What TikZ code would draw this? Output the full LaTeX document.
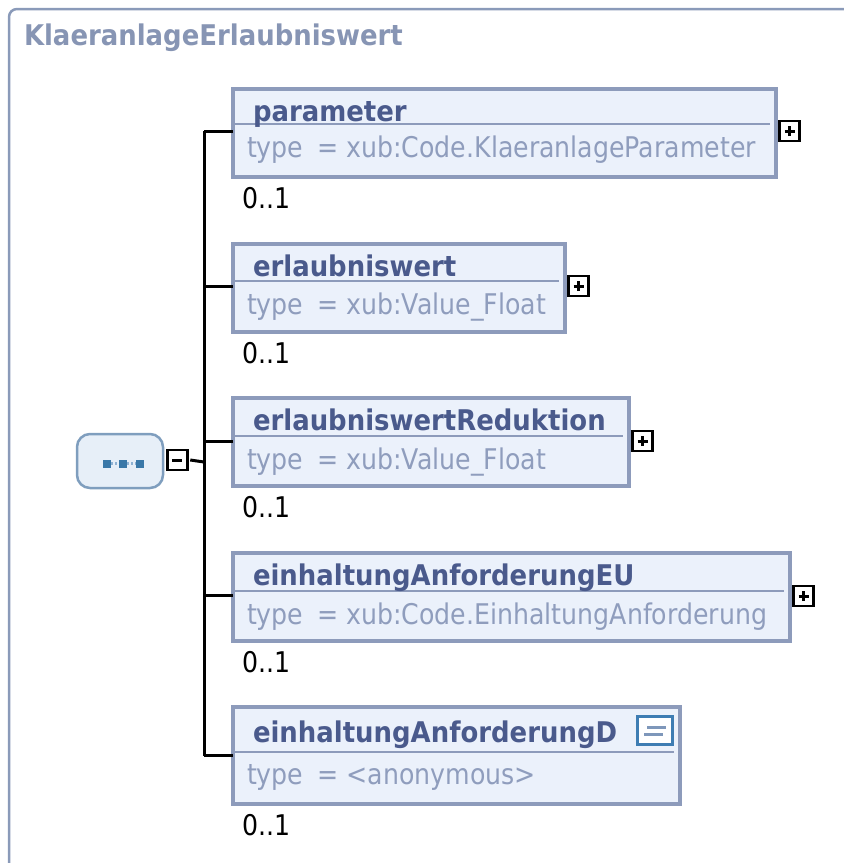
\documentclass[tikz,border=0pt]{standalone}
\usepackage{fontspec}
\setmainfont[FakeStretch=0.885]{DejaVu Sans}
\newfontfamily\namefont[FakeStretch=0.91]{DejaVu Sans}
\usetikzlibrary{positioning}

\definecolor{frameline}{HTML}{8A9AB9}
\definecolor{titlecol}{HTML}{8795B4}
\definecolor{boxline}{HTML}{8D9BBB}
\definecolor{boxfill}{HTML}{EBF1FB}
\definecolor{namecol}{HTML}{4A5A8C}
\definecolor{typecol}{HTML}{8F9DBD}
\definecolor{seqfill}{HTML}{E7EFF8}
\definecolor{seqline}{HTML}{7F9EBE}
\definecolor{iconblue}{HTML}{3A78A8}
\definecolor{icondots}{HTML}{8FB2D3}
\definecolor{docblue}{HTML}{3E7DB3}
\definecolor{doclines}{HTML}{7E97BA}

\begin{document}
\begin{tikzpicture}[x=1pt,y=-1pt,
    every node/.style={inner sep=0pt, outer sep=0pt},
    element/.style={draw=boxline, line width=4.5pt, fill=boxfill, anchor=north west, minimum height=88},
    divider/.style={boxline, line width=2pt},
    elname/.style={anchor=base west, text=namecol, font=\namefont\bfseries\fontsize{28.5}{30}\selectfont},
    eltype/.style={anchor=base west, text=typecol, font=\fontsize{28.5}{30}\selectfont},
    occurs/.style={anchor=base west, text=black, font=\fontsize{28.5}{30}\selectfont},
    expander/.style={draw=black, fill=white, line width=2.5pt, minimum width=20, minimum height=20},
    glyph/.style={black, line width=3pt},
    wire/.style={black, line width=3pt}]
  \useasboundingbox (0,0) rectangle (844,863);

  % outer frame and title
  \draw [frameline, line width=2.5pt, rounded corners=8] (9,870) -- (9,9) -- (850,9);
  \node [anchor=base west, text=titlecol, font=\namefont\bfseries\fontsize{28.5}{30}\selectfont] (title) at (24,45) {KlaeranlageErlaubniswert};

  % sequence compositor
  \node [draw=seqline, line width=2.5pt, fill=seqfill, rounded corners=13, minimum width=86, minimum height=54] (seq) at (120,461) {};
  \draw [icondots, line width=2.5pt, dash pattern=on 2pt off 2pt] (107,463.5) -- (140,463.5);
  \foreach \sx in {107,123,140}
    \fill [iconblue] (\sx-4,459.5) rectangle (\sx+4,467.5);
  \node [expander, anchor=west] (seqminus) at (167.25,460) {};
  \draw [glyph] ([xshift=-5pt]seqminus.center) -- ([xshift=5pt]seqminus.center);
  \coordinate (hub) at (204,462);

  % parameter
  \node [element, minimum width=543] (parameter) at (233,89) {};
  \draw [divider] (235,124) -- (770,124);
  \node [elname] (parametername) at (253,121) {parameter};
  \node [eltype] (parametertype) at (247,157) {type\hspace{6pt} = xub:Code.KlaeranlageParameter};
  \node [occurs] (parameteroccurs) at (242,208) {0..1};
  \node [expander, anchor=west] (parameterplus) at ([xshift=3.5pt, yshift=2pt]parameter.east) {};

  % erlaubniswert
  \node [element, minimum width=332] (erlaubniswert) at (233,244) {};
  \draw [divider] (235,281) -- (559,281);
  \node [elname] (erlaubniswertname) at (253,276) {erlaubniswert};
  \node [eltype] (erlaubniswerttype) at (247,314) {type\hspace{6pt} = xub:Value\_Float};
  \node [occurs] (erlaubniswertoccurs) at (242,363) {0..1};
  \node [expander, anchor=west] (erlaubniswertplus) at ([xshift=3.5pt, yshift=2pt]erlaubniswert.east) {};

  % erlaubniswertReduktion
  \node [element, minimum width=396] (reduktion) at (233,398) {};
  \draw [divider] (235,436) -- (623,436);
  \node [elname] (reduktionname) at (253,430) {erlaubniswertReduktion};
  \node [eltype] (reduktiontype) at (247,469) {type\hspace{6pt} = xub:Value\_Float};
  \node [occurs] (reduktionoccurs) at (242,517) {0..1};
  \node [expander, anchor=west] (reduktionplus) at ([xshift=3.5pt, yshift=1pt]reduktion.east) {};

  % einhaltungAnforderungEU
  \node [element, minimum width=557] (anfEU) at (233,553) {};
  \draw [divider] (235,591) -- (784,591);
  \node [elname] (anfEUname) at (253,585) {einhaltungAnforderungEU};
  \node [eltype] (anfEUtype) at (247,624) {type\hspace{6pt} = xub:Code.EinhaltungAnforderung};
  \node [occurs] (anfEUoccurs) at (242,672) {0..1};
  \node [expander, anchor=west] (anfEUplus) at ([xshift=3.5pt, yshift=1pt]anfEU.east) {};

  % einhaltungAnforderungD
  \node [element, minimum width=447, minimum height=97] (anfD) at (233,707) {};
  \draw [divider] (235,752) -- (674,752);
  \node [elname] (anfDname) at (253,742) {einhaltungAnforderungD};
  \node [eltype] (anfDtype) at (247,784) {type\hspace{6pt} = <anonymous>};
  \node [occurs] (anfDoccurs) at (242,835) {0..1};
  \node [draw=docblue, line width=3pt, fill=white, minimum width=35, minimum height=28] (anfDdoc) at (655,730.5) {};
  \draw [doclines, line width=3pt] (647,727) -- (666,727);
  \draw [doclines, line width=3pt] (644,734) -- (663,734);

  % plus signs
  \foreach \pl in {parameterplus,erlaubniswertplus,reduktionplus,anfEUplus} {
    \draw [glyph] ([xshift=-5pt]\pl.center) -- ([xshift=5pt]\pl.center);
    \draw [glyph] ([yshift=-5pt]\pl.center) -- ([yshift=5pt]\pl.center);
  }

  % connectors
  \draw [wire] ([xshift=3pt]seqminus.east) -- (hub);
  \draw [wire] ([yshift=2pt]parameter.west -| hub) -- (hub |- anfD.west);
  \draw [wire] ([yshift=2pt]parameter.west -| hub) -- ([yshift=2pt]parameter.west);
  \draw [wire] ([yshift=2pt]erlaubniswert.west -| hub) -- ([yshift=2pt]erlaubniswert.west);
  \draw [wire] ([yshift=1pt]reduktion.west -| hub) -- ([yshift=1pt]reduktion.west);
  \draw [wire] ([yshift=2pt]anfEU.west -| hub) -- ([yshift=2pt]anfEU.west);
  \draw [wire] (anfD.west -| hub) -- (anfD.west);
\end{tikzpicture}
\end{document}
